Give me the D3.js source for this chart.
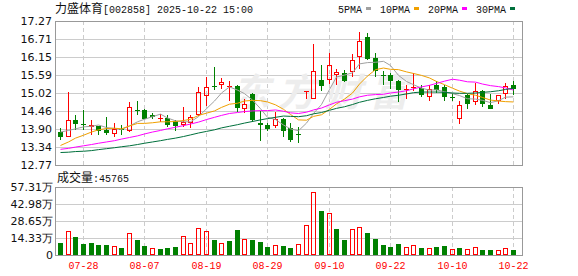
<!DOCTYPE html>
<html>
<head>
<meta charset="utf-8">
<script src="https://cdn.jsdelivr.net/npm/d3@7"></script>
<style>
  body { margin: 0; background: #fff; }
  svg { display: block; }
</style>
</head>
<body>
<svg id="chart" width="578" height="276"></svg>
<script>

// trading days shown
const dates = ["07-23","07-24","07-25","07-28","07-29","07-30","07-31","08-01","08-04","08-05",
  "08-06","08-07","08-08","08-11","08-12","08-13","08-14","08-15","08-18","08-19",
  "08-20","08-21","08-22","08-25","08-26","08-27","08-28","08-29","09-01","09-02",
  "09-03","09-04","09-05","09-08","09-09","09-10","09-11","09-12","09-15","09-16",
  "09-17","09-18","09-19","09-22","09-23","09-24","09-25","09-26","09-29","09-30",
  "10-09","10-10","10-13","10-14","10-15","10-16","10-17","10-20","10-21","10-22"];

const openP = [13.80,13.66,14.18,14.06,13.97,13.98,13.86,13.74,13.89,13.82,
  14.48,14.50,14.34,14.23,14.24,14.16,14.01,14.08,14.32,14.93,
  15.23,15.27,15.22,15.24,14.51,15.00,14.09,14.01,13.99,14.20,
  13.92,13.73,15.08,14.84,15.44,15.44,15.57,15.63,15.67,16.13,
  16.78,16.11,15.58,15.57,15.40,15.12,15.20,15.17,14.90,15.26,
  15.20,14.91,14.22,14.95,14.74,15.09,14.65,14.76,14.99,15.28];

const highP = [13.92,15.05,14.34,14.50,14.19,13.99,14.28,14.08,14.03,14.74,
  14.78,14.52,14.40,14.36,14.32,14.19,14.59,14.34,15.22,15.51,
  15.82,15.49,15.38,15.26,14.84,15.02,14.45,14.07,14.43,14.24,
  14.07,13.97,15.08,16.55,15.88,16.28,15.78,15.74,16.24,16.92,
  16.90,16.28,15.70,15.63,15.42,15.26,15.63,15.28,15.28,15.40,
  15.28,15.01,14.78,14.99,15.32,15.11,14.99,14.97,15.34,15.38];

const lowP = [13.54,13.63,13.87,13.87,13.72,13.70,13.70,13.63,13.70,13.80,
  14.32,14.20,14.20,14.12,13.95,13.82,13.95,13.92,14.30,14.60,
  15.12,15.13,14.76,14.43,14.38,14.12,13.53,13.84,13.92,13.63,
  13.49,13.46,14.83,14.84,15.09,15.30,15.26,15.36,15.53,15.78,
  16.05,15.51,15.28,15.15,14.74,14.84,15.07,14.88,14.76,15.03,
  14.76,14.78,14.05,14.53,14.65,14.59,14.51,14.67,14.82,14.95];

const closeP = [13.66,14.17,14.06,14.01,14.01,13.84,13.78,13.90,13.86,14.58,
  14.46,14.22,14.28,14.25,14.01,13.98,14.10,14.28,15.05,15.22,
  15.21,15.36,15.23,14.55,14.67,14.18,14.01,13.88,14.20,13.84,
  13.56,13.71,15.08,15.72,15.23,15.89,15.67,15.40,16.05,16.65,
  16.09,15.70,15.55,15.40,15.11,15.14,15.22,14.97,15.13,15.12,
  14.88,14.90,14.65,14.67,15.07,14.67,14.53,14.95,15.24,15.13];

// volume in 万
const volume = [10.1,20.1,15.4,9.2,10.1,8.4,8.4,7.5,5.9,18.2,
  12.6,7.5,5.9,4.8,5.9,6.7,15.9,10.1,22.4,20.1,
  12.6,10.1,11.7,21.0,13.4,12.6,10.9,6.7,8.4,7.5,
  5.9,8.9,24.9,53.4,36.9,35.8,21.8,12.6,21.5,23.2,
  18.5,13.4,8.4,6.7,8.9,6.4,8.1,5.9,5.6,6.7,
  7.5,4.8,5.9,4.8,6.4,4.2,4.2,3.9,5.6,4.58];

const ma5 = [13.80,13.85,13.90,13.96,13.98,14.02,13.94,13.91,13.88,13.99,
  14.12,14.20,14.28,14.36,14.24,14.15,14.12,14.12,14.28,14.53,
  14.77,15.02,15.21,15.11,15.00,14.80,14.53,14.26,14.19,14.02,
  13.90,13.84,14.08,14.38,14.66,15.13,15.52,15.58,15.65,15.93,
  15.97,15.98,16.01,15.88,15.57,15.38,15.28,15.17,15.11,15.12,
  15.06,15.00,14.94,14.84,14.83,14.79,14.72,14.78,14.89,14.90];

const ma10 = [13.38,13.49,13.61,13.70,13.80,13.87,13.91,13.92,13.90,13.99,
  14.07,14.07,14.09,14.12,14.12,14.13,14.16,14.20,14.32,14.39,
  14.46,14.57,14.67,14.70,14.77,14.79,14.78,14.74,14.65,14.51,
  14.35,14.18,14.17,14.29,14.34,14.51,14.68,14.83,15.02,15.30,
  15.55,15.75,15.80,15.76,15.75,15.68,15.63,15.57,15.49,15.38,
  15.28,15.17,15.08,15.00,14.95,14.88,14.80,14.77,14.75,14.74];

const ma20 = [13.26,13.29,13.33,13.37,13.41,13.45,13.49,13.53,13.58,13.63,
  13.68,13.74,13.80,13.85,13.90,13.95,14.00,14.05,14.11,14.19,
  14.26,14.32,14.38,14.41,14.44,14.46,14.47,14.47,14.49,14.45,
  14.40,14.38,14.42,14.49,14.55,14.65,14.73,14.78,14.83,14.90,
  14.95,14.97,14.98,15.02,15.05,15.09,15.15,15.21,15.26,15.32,
  15.39,15.45,15.42,15.37,15.36,15.30,15.25,15.22,15.18,15.11];

const ma30 = [13.16,13.17,13.19,13.20,13.22,13.25,13.28,13.31,13.34,13.37,
  13.41,13.45,13.49,13.53,13.57,13.61,13.66,13.71,13.77,13.82,
  13.87,13.93,13.98,14.03,14.08,14.13,14.18,14.22,14.26,14.30,
  14.29,14.28,14.31,14.37,14.41,14.48,14.54,14.59,14.66,14.73,
  14.79,14.84,14.88,14.92,14.95,14.99,15.03,15.05,15.05,15.05,
  15.04,15.02,15.01,15.01,15.02,15.04,15.06,15.09,15.13,15.17];

const priceTicks = [12.77, 13.34, 13.90, 14.46, 15.02, 15.59, 16.15, 16.71, 17.27];
const volTicks = [0, 14.33, 28.65, 42.98, 57.31];
const volTickLabels = ["0", "14.33万", "28.65万", "42.98万", "57.31万"];
const dateTicks = ["07-28","08-07","08-19","08-29","09-10","09-22","10-10","10-22"];

const maNames = ["5PMA", "10PMA", "20PMA", "30PMA"];
const maSeries = [ma5, ma10, ma20, ma30];

const stockName = "力盛体育";
const stockCode = "[002858] 2025-10-22 15:00";
const lastVolume = "45765";


const RED = "#ff0000", GREEN = "#008000";
const maColors = ["#a0a0a0", "#f0a000", "#ff00ff", "#00703c"];

const svg = d3.select("#chart");
const plotLeft = 55, plotRight = 522;

const x = d3.scaleBand().domain(dates).range([56, 517]);
const cx = d => Math.round(x(d) + x.bandwidth() / 2);

const y = d3.scaleLinear().domain([12.77, 17.27]).range([165, 21]);
const yv = d3.scaleLinear().domain([0, 57.31]).range([255, 187]);

const labelFont = "'DejaVu Sans', sans-serif";
const monoFont = "'Liberation Mono', 'DejaVu Sans Mono', monospace";
const cjkFont = "'Noto Sans CJK SC', sans-serif";

// ---- grid ----
const grid = svg.append("g");

grid.selectAll(".hp")
  .data(priceTicks)
  .enter().append("line")
  .attr("x1", plotLeft).attr("x2", plotRight)
  .attr("y1", d => Math.round(y(d)) + 0.5)
  .attr("y2", d => Math.round(y(d)) + 0.5)
  .attr("stroke", "#cccccc");

grid.selectAll(".hv")
  .data(volTicks)
  .enter().append("line")
  .attr("x1", plotLeft).attr("x2", plotRight)
  .attr("y1", d => Math.round(yv(d)) + 0.5)
  .attr("y2", d => Math.round(yv(d)) + 0.5)
  .attr("stroke", "#cccccc");

dateTicks.forEach(function (d) {
  [[21, 165], [187, 255]].forEach(function (r) {
    grid.append("line")
      .attr("x1", cx(d) + 0.5).attr("x2", cx(d) + 0.5)
      .attr("y1", r[0]).attr("y2", r[1])
      .attr("stroke", "#cccccc")
      .attr("stroke-dasharray", "4,3");
  });
});

// watermark
svg.append("text")
  .attr("x", 232).attr("y", 106)
  .attr("font-family", cjkFont)
  .attr("font-size", 38)
  .attr("font-weight", "bold")
  .attr("font-style", "italic")
  .attr("letter-spacing", 8)
  .attr("fill", "#ededed")
  .text("东方财富");

// frames
[[21, 165], [187, 255]].forEach(function (r) {
  svg.append("rect")
    .attr("x", plotLeft + 0.5).attr("y", r[0] + 0.5)
    .attr("width", plotRight - plotLeft).attr("height", r[1] - r[0])
    .attr("fill", "none")
    .attr("stroke", "#999999");
});

// ---- axes labels ----
svg.append("g").selectAll("text")
  .data(priceTicks)
  .enter().append("text")
  .attr("x", 52)
  .attr("y", d => y(d))
  .attr("dy", "0.36em")
  .attr("text-anchor", "end")
  .attr("font-family", labelFont)
  .attr("font-size", 11)
  .attr("fill", "#111")
  .text(d => d.toFixed(2));

svg.append("g").selectAll("text")
  .data(volTicks)
  .enter().append("text")
  .attr("x", 53)
  .attr("y", d => yv(d))
  .attr("dy", "0.36em")
  .attr("text-anchor", "end")
  .attr("font-family", labelFont)
  .attr("font-size", 11)
  .attr("fill", "#111")
  .text((d, i) => volTickLabels[i]);

svg.append("g").selectAll("text")
  .data(dateTicks)
  .enter().append("text")
  .attr("x", d => cx(d) + 0.5)
  .attr("y", 269)
  .attr("text-anchor", "middle")
  .attr("font-family", monoFont)
  .attr("font-size", 10)
  .attr("fill", RED)
  .text(d => d);

// ---- candles ----
const candles = svg.append("g");

dates.forEach(function (d, i) {
  const o = openP[i], c = closeP[i], h = highP[i], l = lowP[i];
  const up = c >= o;
  const col = up ? RED : GREEN;
  const px = cx(d);
  const yTop = Math.round(y(Math.max(o, c)));
  const yBot = Math.round(y(Math.min(o, c)));
  const yH = Math.round(y(h)), yL = Math.round(y(l));

  if (up) {
    if (yH < yTop) {
      candles.append("line").attr("x1", px + 0.5).attr("x2", px + 0.5)
        .attr("y1", yH).attr("y2", yTop).attr("stroke", col);
    }
    if (yL > yBot) {
      candles.append("line").attr("x1", px + 0.5).attr("x2", px + 0.5)
        .attr("y1", yBot).attr("y2", yL).attr("stroke", col);
    }
    if (yBot - yTop >= 2) {
      candles.append("rect")
        .attr("x", px - 1.5).attr("y", yTop + 0.5)
        .attr("width", 4).attr("height", yBot - yTop - 1)
        .attr("fill", "none").attr("stroke", col);
    } else {
      candles.append("line").attr("x1", px - 2).attr("x2", px + 3)
        .attr("y1", yTop + 0.5).attr("y2", yTop + 0.5).attr("stroke", col);
    }
  } else {
    candles.append("line").attr("x1", px + 0.5).attr("x2", px + 0.5)
      .attr("y1", yH).attr("y2", yL).attr("stroke", col);
    candles.append("rect")
      .attr("x", px - 2).attr("y", yTop)
      .attr("width", 5).attr("height", Math.max(1, yBot - yTop))
      .attr("fill", col);
  }
});

// ---- moving averages ----
maSeries.forEach(function (s, k) {
  const line = d3.line()
    .x((v, i) => cx(dates[i]) + 0.5)
    .y(v => y(v));
  svg.append("path")
    .datum(s)
    .attr("d", line)
    .attr("fill", "none")
    .attr("stroke", maColors[k])
    .attr("stroke-width", 1);
});

// ---- volume ----
const vols = svg.append("g");
dates.forEach(function (d, i) {
  const prev = i > 0 ? closeP[i - 1] : openP[i];
  const up = closeP[i] > prev;
  const px = cx(d);
  const top = Math.round(yv(volume[i]));
  const base = Math.round(yv(0));
  if (up) {
    vols.append("rect")
      .attr("x", px - 1.5).attr("y", top + 0.5)
      .attr("width", 4).attr("height", base - top - 1)
      .attr("fill", "none").attr("stroke", RED);
  } else {
    vols.append("rect")
      .attr("x", px - 2).attr("y", top)
      .attr("width", 5).attr("height", base - top)
      .attr("fill", GREEN);
  }
});

// ---- title & legend ----
const title = svg.append("text")
  .attr("x", 55).attr("y", 13)
  .attr("fill", "#111");
title.append("tspan").attr("font-family", cjkFont).attr("font-size", 12).text(stockName);
title.append("tspan").attr("font-family", monoFont).attr("font-size", 10).text(stockCode);

const volTitle = svg.append("text")
  .attr("x", 57).attr("y", 182)
  .attr("fill", "#111");
volTitle.append("tspan").attr("font-family", cjkFont).attr("font-size", 12).text("成交量");
volTitle.append("tspan").attr("font-family", monoFont).attr("font-size", 10).text(":" + lastVolume);

let lx = 338;
maNames.forEach(function (name, k) {
  const t = svg.append("text")
    .attr("x", lx).attr("y", 13)
    .attr("font-family", monoFont)
    .attr("font-size", 10)
    .attr("fill", "#111")
    .text(name);
  const w = t.node().getComputedTextLength();
  svg.append("rect")
    .attr("x", Math.round(lx + w + 4)).attr("y", 7)
    .attr("width", 5).attr("height", 3)
    .attr("fill", maColors[k]);
  lx = Math.round(lx + w + 4) + 5 + 9;
});

</script>
</body>
</html>
